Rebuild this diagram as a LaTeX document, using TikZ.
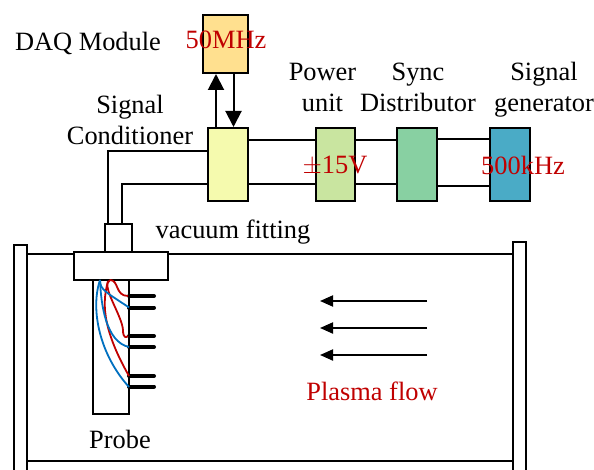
\documentclass[tikz,border=0pt]{standalone}
\usepackage{fontspec}
\usepackage{xcolor}
\setmainfont{Liberation Serif}
\usetikzlibrary{arrows.meta}

\definecolor{redtext}{HTML}{C00000}
\definecolor{wireblue}{HTML}{0070C0}
\definecolor{daqfill}{HTML}{FFE08F}
\definecolor{condfill}{HTML}{F5FAAE}
\definecolor{powerfill}{HTML}{C9E5A0}
\definecolor{syncfill}{HTML}{88D0A2}
\definecolor{genfill}{HTML}{4AABC6}

\tikzset{
    unitbox/.style={draw, line width=2pt, minimum width=39.5pt, minimum height=73pt, inner sep=0pt},
    plainbox/.style={draw, line width=2pt, fill=white, inner sep=0pt},
    textlabel/.style={align=center, font=\fontsize{26.4}{31}\selectfont, inner sep=0pt},
    redlabel/.style={textlabel, text=redtext},
    probepin/.style={line width=4pt, line cap=round},
    flow/.style={-{Triangle[length=13pt,width=11pt]}, line width=2pt},
    bigarrow/.style={-{Triangle[length=16pt,width=16pt]}, line width=2pt},
    redwire/.style={draw=redtext, line width=1.8pt},
    bluewire/.style={draw=wireblue, line width=1.8pt},
}

\begin{document}
\begin{tikzpicture}[x=1pt,y=-1pt,line width=2pt]
    \useasboundingbox (0,0) rectangle (594,470);

    % units
    \node[unitbox, fill=daqfill, minimum width=45pt, minimum height=58pt] (daq) at (225.5,44) {};
    \node[unitbox, fill=condfill] (cond) at (228,164.5) {};
    \node[unitbox, fill=powerfill] (power) at (335.5,164.5) {};
    \node[unitbox, fill=syncfill] (sync) at (417,164.5) {};
    \node[unitbox, fill=genfill] (gen) at (510,164.5) {};

    % vacuum chamber
    \coordinate (leftflange) at (27,254.5);
    \coordinate (rightflange) at (512.5,254.5);
    \draw (14,470) |- (27,245) -- (27,470);
    \draw (513,470) |- (526,242) -- (526,470);
    \draw (27,461) -- (513,461);

    % probe
    \node[plainbox, minimum width=36pt, minimum height=134pt] (probe) at (111,347) {};
    \node[plainbox, minimum width=94pt, minimum height=28pt] (flange) at (121,266) {};
    \node[plainbox, minimum width=27pt, minimum height=28pt] (fitting) at (118.5,238) {};
    \draw (leftflange) -- (flange.west |- leftflange);
    \draw (flange.east |- rightflange) -- (rightflange);

    % connections
    \draw ([yshift=24.5pt]cond.east) -- ([yshift=24.5pt]power.west);
    \draw ([yshift=-19.5pt]cond.east) -- ([yshift=-19.5pt]power.west);
    \draw ([yshift=24.5pt]power.east) -- ([yshift=24.5pt]sync.west);
    \draw ([yshift=-20pt]power.east) -- ([yshift=-20pt]sync.west);
    \draw ([yshift=25pt]sync.east) -- ([yshift=25pt]gen.west);
    \draw ([yshift=-21.5pt]sync.east) -- ([yshift=-21.5pt]gen.west);
    \draw ([yshift=13.5pt]cond.west) -| ([xshift=-10.5pt]fitting.north);
    \draw ([yshift=-19.5pt]cond.west) -| ([xshift=3.5pt]fitting.north);
    \draw[bigarrow] ([xshift=-12pt]cond.north) -- ([xshift=-9.5pt]daq.south);
    \draw[bigarrow] ([xshift=8pt]daq.south) -- ([xshift=5.5pt]cond.north);

    % pins
    \foreach \y in {296,307.5,336,347,376,386.5} {
        \draw[probepin] (129,\y) -- (154,\y);
    }

    % wires
    \draw[redwire] (110,280) .. controls (119,280) and (115,296) .. (128,296);
    \draw[redwire] (110,280) .. controls (100,285) and (122,315) .. (123,330)
        .. controls (123,338) and (126,338) .. (128,336);
    \draw[redwire] (108,281) .. controls (103,300) and (100,325) .. (129,376);
    \draw[bluewire] (100,280) .. controls (100,290) and (106,292) .. (129,307.5);
    \draw[bluewire] (100,280) .. controls (101,305) and (106,342) .. (129,347);
    \draw[bluewire] (100,280) .. controls (90,310) and (100,355) .. (129,387);

    % plasma flow
    \foreach \y in {301,328,355} {
        \draw[flow] (427,\y) -- (320,\y);
    }

    % labels
    \node[textlabel] (daqlabel) at (88,43) {DAQ Module};
    \node[textlabel] (condlabel) at (130,119.5) {Signal\\Conditioner};
    \node[textlabel] (powerlabel) at (322.5,87) {Power\\unit};
    \node[textlabel] (synclabel) at (418,87) {Sync\\Distributor};
    \node[textlabel] (genlabel) at (544,89.5) {Signal\\generator};
    \node[textlabel] (fittinglabel) at (233,232) {vacuum fitting};
    \node[textlabel] (probelabel) at (120,439) {Probe};
    \node[redlabel] (daqrate) at (226,40) {50MHz};
    \node[redlabel] (powervolt) at (335,166) {$\pm$15V};
    \node[redlabel] (genrate) at (523,165) {500kHz};
    \node[redlabel] (flowlabel) at (372,391) {Plasma flow};

\end{tikzpicture}
\end{document}
